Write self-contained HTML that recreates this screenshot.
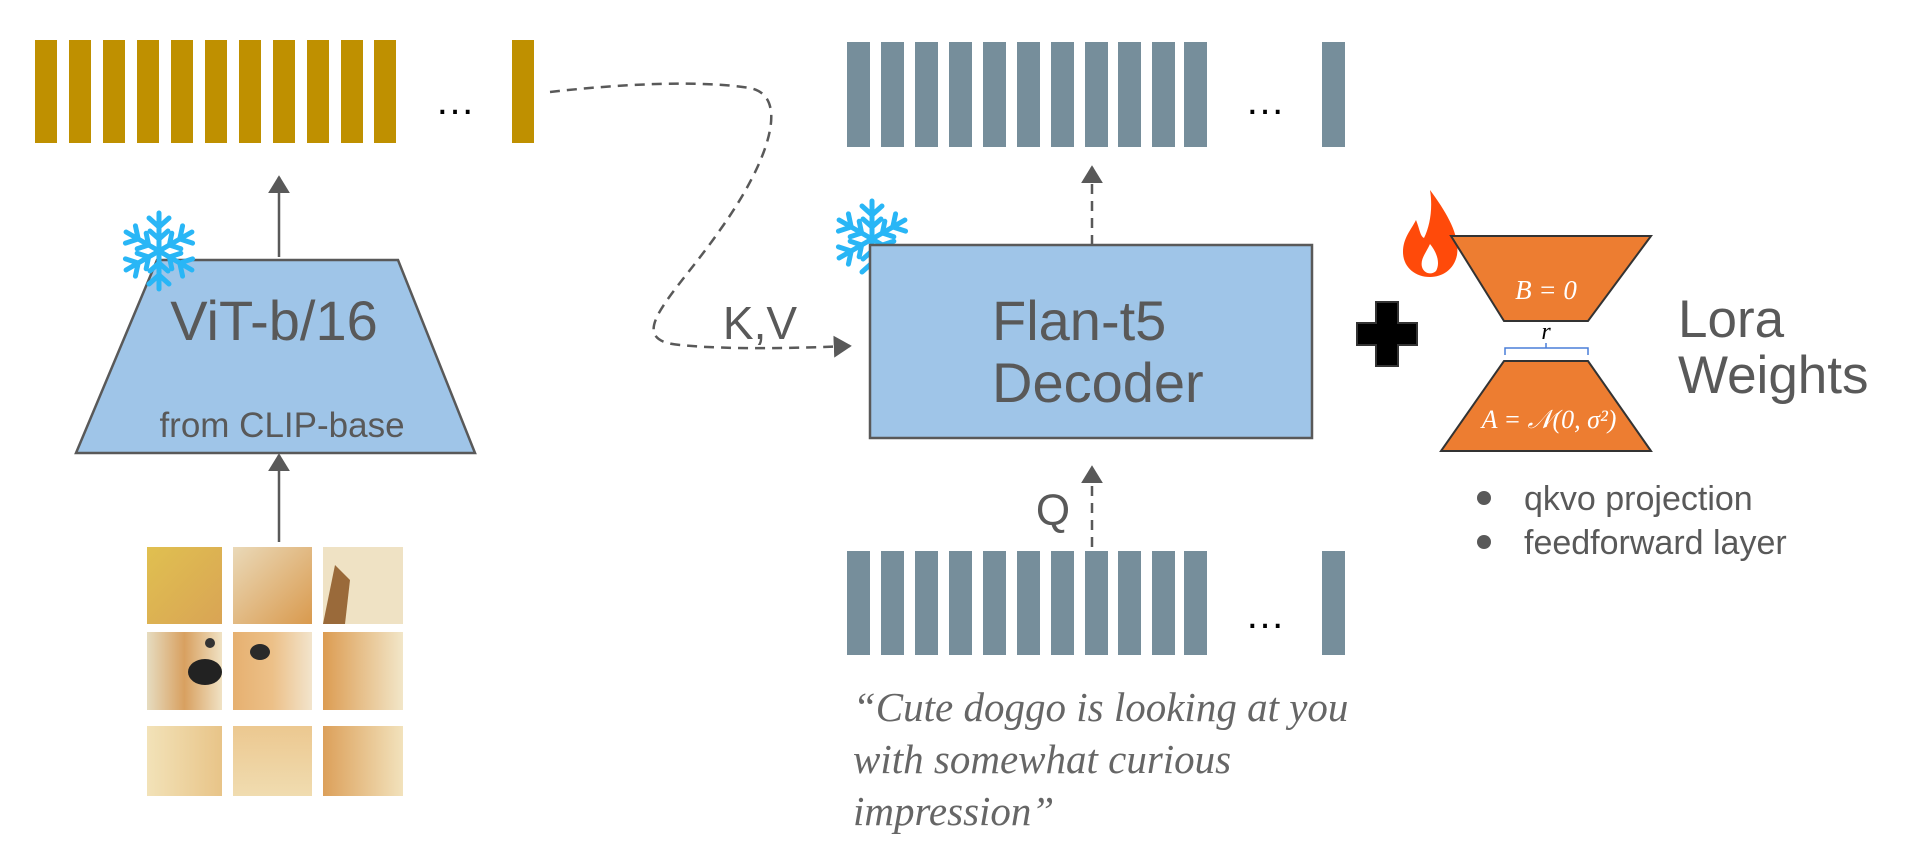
<!DOCTYPE html>
<html><head><meta charset="utf-8"><style>
html,body{margin:0;padding:0;background:#fff;overflow:hidden;}
svg{display:block;}
.s{font-family:"Liberation Sans",Arial,sans-serif;fill:#595959;}
.it{font-family:"Liberation Serif",serif;font-style:italic;}
</style></head><body>
<svg width="1920" height="848" viewBox="0 0 1920 848" xmlns="http://www.w3.org/2000/svg">
<defs>
<marker id="ah2" viewBox="0 0 10 10" markerWidth="18" markerHeight="22" refX="9" refY="5" orient="auto" markerUnits="userSpaceOnUse" preserveAspectRatio="none">
<path d="M0,0 L10,5 L0,10 z" fill="#595959"/></marker>
<linearGradient id="g1" x1="0" y1="0" x2="1" y2="1"><stop offset="0" stop-color="#e0c050"/><stop offset="1" stop-color="#d9a455"/></linearGradient>
<linearGradient id="g2" x1="0" y1="0" x2="1" y2="1"><stop offset="0" stop-color="#ead9b8"/><stop offset="1" stop-color="#d99a4e"/></linearGradient>
<linearGradient id="g3" x1="0" y1="0" x2="1" y2="0"><stop offset="0" stop-color="#e6dcc0"/><stop offset="0.5" stop-color="#d8a060"/><stop offset="1" stop-color="#f0e2c4"/></linearGradient>
<linearGradient id="g4" x1="0" y1="0" x2="1" y2="0"><stop offset="0" stop-color="#e6b070"/><stop offset="0.5" stop-color="#ecc088"/><stop offset="1" stop-color="#f2e4cc"/></linearGradient>
<linearGradient id="g6" x1="0" y1="0" x2="1" y2="0"><stop offset="0" stop-color="#dc9c52"/><stop offset="1" stop-color="#f2e6c8"/></linearGradient>
<linearGradient id="g7" x1="0" y1="0" x2="1" y2="0"><stop offset="0" stop-color="#f2e2b8"/><stop offset="1" stop-color="#e8c488"/></linearGradient>
<linearGradient id="g8" x1="0" y1="0" x2="0" y2="1"><stop offset="0" stop-color="#ecc890"/><stop offset="1" stop-color="#f0dcb0"/></linearGradient>
<linearGradient id="g9" x1="0" y1="0" x2="1" y2="0"><stop offset="0" stop-color="#dca05a"/><stop offset="1" stop-color="#f2e2bc"/></linearGradient>
</defs>

<!-- gold bars -->
<g fill="#bf9000">
<rect x="35" y="40" width="22" height="103"/><rect x="69" y="40" width="22" height="103"/><rect x="103" y="40" width="22" height="103"/><rect x="137" y="40" width="22" height="103"/><rect x="171" y="40" width="22" height="103"/><rect x="205" y="40" width="22" height="103"/><rect x="239" y="40" width="22" height="103"/><rect x="273" y="40" width="22" height="103"/><rect x="307" y="40" width="22" height="103"/><rect x="341" y="40" width="22" height="103"/><rect x="374" y="40" width="22" height="103"/>
<rect x="512" y="40" width="22" height="103"/>
</g>
<text x="455" y="114" class="s" font-size="40" text-anchor="middle" style="fill:#000">…</text>

<!-- grey bars top -->
<g fill="#768e9b">
<rect x="847" y="42" width="23" height="105"/><rect x="881" y="42" width="23" height="105"/><rect x="915" y="42" width="23" height="105"/><rect x="949" y="42" width="23" height="105"/><rect x="983" y="42" width="23" height="105"/><rect x="1017" y="42" width="23" height="105"/><rect x="1051" y="42" width="23" height="105"/><rect x="1085" y="42" width="23" height="105"/><rect x="1118" y="42" width="23" height="105"/><rect x="1152" y="42" width="23" height="105"/><rect x="1184" y="42" width="23" height="105"/>
<rect x="1322" y="42" width="23" height="105"/>
</g>
<text x="1265" y="114" class="s" font-size="40" text-anchor="middle" style="fill:#000">…</text>
<!-- grey bars bottom -->
<g fill="#768e9b">
<rect x="847" y="551" width="23" height="104"/><rect x="881" y="551" width="23" height="104"/><rect x="915" y="551" width="23" height="104"/><rect x="949" y="551" width="23" height="104"/><rect x="983" y="551" width="23" height="104"/><rect x="1017" y="551" width="23" height="104"/><rect x="1051" y="551" width="23" height="104"/><rect x="1085" y="551" width="23" height="104"/><rect x="1118" y="551" width="23" height="104"/><rect x="1152" y="551" width="23" height="104"/><rect x="1184" y="551" width="23" height="104"/>
<rect x="1322" y="551" width="23" height="104"/>
</g>
<text x="1265" y="628" class="s" font-size="40" text-anchor="middle" style="fill:#000">…</text>

<!-- ViT trapezoid -->
<line x1="279" y1="257" x2="279" y2="177" stroke="#595959" stroke-width="2.5" marker-end="url(#ah2)"/>
<line x1="279" y1="542" x2="279" y2="455" stroke="#595959" stroke-width="2.5" marker-end="url(#ah2)"/>
<polygon points="157,260 398,260 475,453 76,453" fill="#9fc5e8" stroke="#595959" stroke-width="2.5"/>
<text x="274" y="340" class="s" font-size="56" text-anchor="middle">ViT-b/16</text>
<text x="282" y="437" class="s" font-size="35" text-anchor="middle">from CLIP-base</text>

<!-- snowflakes -->
<g id="snow" stroke="#29b6f6" stroke-width="5" stroke-linecap="round" fill="none">
<g transform="translate(159,251)">
<g id="arm"><line x1="0" y1="0" x2="0" y2="-38"/><polyline points="-10,-33 0,-24 10,-33"/><polyline points="-9,-20 0,-12 9,-20"/></g>
<use href="#arm" transform="rotate(60)"/><use href="#arm" transform="rotate(120)"/><use href="#arm" transform="rotate(180)"/><use href="#arm" transform="rotate(240)"/><use href="#arm" transform="rotate(300)"/>
</g>
</g>
<g transform="translate(713,-12)"><use href="#snow"/></g>

<!-- dog grid -->
<rect x="147" y="547" width="75" height="77" fill="url(#g1)"/>
<rect x="233" y="547" width="79" height="77" fill="url(#g2)"/>
<rect x="323" y="547" width="80" height="77" fill="#efe2c4"/>
<path d="M323,624 L335,565 L350,580 L345,624 z" fill="#9a6a3a"/>
<rect x="147" y="632" width="75" height="78" fill="url(#g3)"/>
<ellipse cx="205" cy="672" rx="17" ry="13" fill="#222"/>
<circle cx="210" cy="643" r="5" fill="#333"/>
<rect x="233" y="632" width="79" height="78" fill="url(#g4)"/>
<ellipse cx="260" cy="652" rx="10" ry="8" fill="#2a2a2a"/>
<rect x="323" y="632" width="80" height="78" fill="url(#g6)"/>
<rect x="147" y="726" width="75" height="70" fill="url(#g7)"/>
<rect x="233" y="726" width="79" height="70" fill="url(#g8)"/>
<rect x="323" y="726" width="80" height="70" fill="url(#g9)"/>

<!-- dashed curve K,V -->
<path d="M550,92 C620,84 700,80 750,88 C790,96 770,160 720,230 C675,295 620,340 680,345 C730,350 800,348 850,346" fill="none" stroke="#595959" stroke-width="2.5" stroke-dasharray="10,7" marker-end="url(#ah2)"/>
<text x="760" y="339" class="s" font-size="46" text-anchor="middle">K,V</text>

<!-- decoder -->
<line x1="1092" y1="245" x2="1092" y2="167" stroke="#595959" stroke-width="2.5" stroke-dasharray="10,7" marker-end="url(#ah2)"/>
<line x1="1092" y1="547" x2="1092" y2="467" stroke="#595959" stroke-width="2.5" stroke-dasharray="10,7" marker-end="url(#ah2)"/>
<rect x="870" y="245" width="442" height="193" fill="#9fc5e8" stroke="#595959" stroke-width="2.5"/>
<text x="992" y="340" class="s" font-size="56">Flan-t5</text>
<text x="992" y="402" class="s" font-size="56">Decoder</text>
<text x="1053" y="525" class="s" font-size="44" text-anchor="middle">Q</text>

<!-- caption -->
<g class="it" font-size="41" fill="#666">
<text x="853" y="721">“Cute doggo is looking at you</text>
<text x="853" y="773">with somewhat curious</text>
<text x="853" y="825">impression”</text>
</g>

<!-- plus -->
<path d="M1376,302 h22 v21 h19 v22 h-19 v21 h-22 v-21 h-19 v-22 h19 z" fill="#000" stroke="#333" stroke-width="2"/>

<!-- fire -->
<path d="M1430,190 C1447,213 1460,235 1457,255 C1454,270 1442,277 1430,277 C1415,277 1403,267 1403,252 C1403,238 1411,230 1416,220 C1420,230 1420,236 1424,238 C1430,226 1433,208 1430,190 z" fill="#ff4a0a"/>
<path d="M1430,244 C1438,254 1440,264 1436,271 C1432,275 1424,274 1422,267 C1420,259 1426,253 1430,244 z" fill="#fff"/>

<!-- lora -->
<polygon points="1451,236 1651,236 1588,321 1504,321" fill="#ed7d31" stroke="#333" stroke-width="2"/>
<text x="1546" y="299" class="it" font-size="27" fill="#fff" text-anchor="middle">B = 0</text>
<text x="1546" y="339" class="it" font-size="24" fill="#000" text-anchor="middle">r</text>
<path d="M1505,355 v-7 h41 v-5 v5 h42 v7" fill="none" stroke="#4a7ed8" stroke-width="1.5"/>
<polygon points="1504,361 1588,361 1651,451 1441,451" fill="#ed7d31" stroke="#333" stroke-width="2"/>
<text x="1549" y="428" class="it" font-size="26" fill="#fff" text-anchor="middle">A = 𝒩(0, σ²)</text>
<text x="1678" y="337" class="s" font-size="53">Lora</text>
<text x="1678" y="393" class="s" font-size="53">Weights</text>
<circle cx="1484" cy="498" r="7" fill="#595959"/>
<circle cx="1484" cy="542" r="7" fill="#595959"/>
<text x="1524" y="510" class="s" font-size="34">qkvo projection</text>
<text x="1524" y="554" class="s" font-size="34">feedforward layer</text>
</svg>
</body></html>
